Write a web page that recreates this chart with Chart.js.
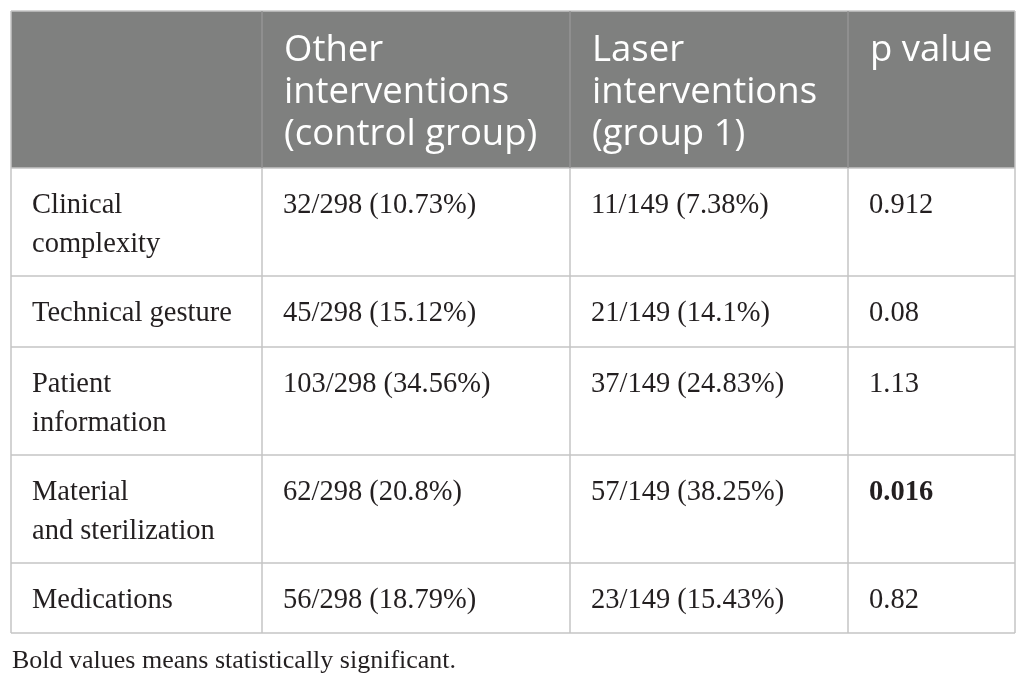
<!DOCTYPE html>
<html>
<head>
<meta charset="utf-8">
<script src="https://cdn.jsdelivr.net/npm/chart.js@4"></script>
<style>
  html, body { margin: 0; padding: 0; background: #ffffff; }
  #wrap { width: 1026px; height: 686px; }
</style>
</head>
<body>
<div id="wrap"><canvas id="c" width="1026" height="686"></canvas></div>
<script>
// ---- data ----
const headers = [[""], ["Other", "interventions", "(control group)"], ["Laser", "interventions", "(group 1)"], ["p value"]];
const categories = [["Clinical", "complexity"], ["Technical gesture"], ["Patient", "information"], ["Material", "and sterilization"], ["Medications"]];
const controlGroup = ["32/298 (10.73%)", "45/298 (15.12%)", "103/298 (34.56%)", "62/298 (20.8%)", "56/298 (18.79%)"];
const laserGroup = ["11/149 (7.38%)", "21/149 (14.1%)", "37/149 (24.83%)", "57/149 (38.25%)", "23/149 (15.43%)"];
const pValues = ["0.912", "0.08", "1.13", "0.016", "0.82"];
const significant = [false, false, false, true, false];
const footnote = "Bold values means statistically significant.";

// ---- layout (scale units) ----
const colEdges = [11, 262, 570, 848, 1015];
const rowEdges = [11, 168, 276, 347, 455, 563, 633];
const padX = 21;

const tablePlugin = {
  id: 'tablePlugin',
  afterDraw(chart) {
    const ctx = chart.ctx;
    const xs = chart.scales.x, ys = chart.scales.y;
    const X = v => xs.getPixelForValue(v);
    const Y = v => ys.getPixelForValue(v);
    ctx.save();
    // header background
    ctx.fillStyle = '#7f807f';
    ctx.fillRect(X(colEdges[0]), Y(rowEdges[0]), X(colEdges[4]) - X(colEdges[0]), Y(rowEdges[1]) - Y(rowEdges[0]));

    // grid lines
    ctx.lineWidth = 1.5;
    ctx.strokeStyle = '#c4c4c4';
    for (let r = 0; r < rowEdges.length; r++) {
      ctx.beginPath();
      ctx.moveTo(X(colEdges[0]), Y(rowEdges[r]));
      ctx.lineTo(X(colEdges[4]), Y(rowEdges[r]));
      ctx.stroke();
    }
    for (let c = 0; c < colEdges.length; c++) {
      const outer = (c === 0 || c === colEdges.length - 1);
      ctx.strokeStyle = outer ? '#c4c4c4' : '#959595';
      ctx.beginPath();
      ctx.moveTo(X(colEdges[c]), Y(rowEdges[0]));
      ctx.lineTo(X(colEdges[c]), Y(rowEdges[1]));
      ctx.stroke();
      ctx.strokeStyle = '#c4c4c4';
      ctx.beginPath();
      ctx.moveTo(X(colEdges[c]), Y(rowEdges[1]));
      ctx.lineTo(X(colEdges[c]), Y(rowEdges[rowEdges.length - 1]));
      ctx.stroke();
    }

    // header text
    ctx.textBaseline = 'alphabetic';
    ctx.textAlign = 'left';
    ctx.fillStyle = '#ffffff';
    ctx.font = '400 36.5px "Open Sans"';
    headers.forEach((lines, c) => {
      lines.forEach((t, i) => {
        ctx.fillText(t, X(colEdges[c] + padX + 1), Y(rowEdges[0] + 50 + i * 42));
      });
    });

    // body text
    ctx.fillStyle = '#231f20';
    const bodyFont = '400 28.5px "Liberation Serif"';
    const boldFont = '700 28.5px "Liberation Serif"';
    for (let r = 0; r < categories.length; r++) {
      const top = rowEdges[r + 1];
      const cells = [categories[r], [controlGroup[r]], [laserGroup[r]], [pValues[r]]];
      cells.forEach((lines, c) => {
        ctx.font = (c === 3 && significant[r]) ? boldFont : bodyFont;
        lines.forEach((t, i) => {
          ctx.fillText(t, X(colEdges[c] + padX), Y(top + 45 + i * 39));
        });
      });
    }

    // footnote
    ctx.font = '400 26px "Liberation Serif"';
    ctx.fillText(footnote, X(12), Y(668));
    ctx.restore();
  }
};

new Chart(document.getElementById('c'), {
  type: 'scatter',
  data: { datasets: [] },
  options: {
    responsive: false,
    animation: false,
    devicePixelRatio: 1,
    layout: { padding: 0 },
    plugins: { legend: { display: false }, tooltip: { enabled: false }, title: { display: false } },
    scales: {
      x: { type: 'linear', min: 0, max: 1026, display: false },
      y: { type: 'linear', min: 0, max: 686, reverse: true, display: false }
    }
  },
  plugins: [tablePlugin]
});
</script>
</body>
</html>
